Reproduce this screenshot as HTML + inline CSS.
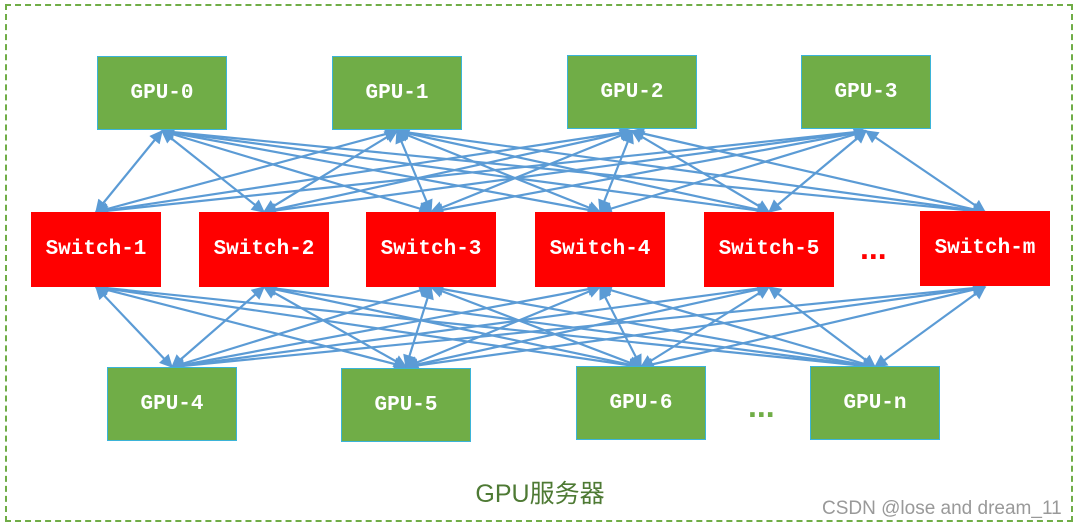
<!DOCTYPE html>
<html><head><meta charset="utf-8"><style>
html,body{margin:0;padding:0;background:#fff;width:1080px;height:528px;overflow:hidden}
.b{position:absolute;display:flex;align-items:center;justify-content:center;font-family:"Liberation Mono","DejaVu Sans Mono",monospace;font-weight:bold;color:#fff;font-size:21px}
.g{background:#70ad47;border:1px solid #3bb4d8;width:128px;height:72px}
.s{background:#ff0000;width:130px;height:75px}
</style></head><body>
<div style="position:absolute;left:5px;top:4px;width:1064px;height:514px;border:2px dashed #70ad47"></div>
<svg style="position:absolute;left:0;top:0" width="1080" height="528">
<defs><marker id="a" viewBox="0 0 10 10" refX="9" refY="5" markerWidth="7" markerHeight="6" orient="auto-start-reverse"><path d="M0,0L10,5L0,10z" fill="#5b9bd5"/></marker></defs>
<g id="L" stroke="#5b9bd5" stroke-width="2.2" marker-start="url(#a)" marker-end="url(#a)"></g>
</svg>
<div class="b g" style="left:97px;top:56px">GPU-0</div>
<div class="b g" style="left:332px;top:56px">GPU-1</div>
<div class="b g" style="left:567px;top:55px">GPU-2</div>
<div class="b g" style="left:801px;top:55px">GPU-3</div>
<div class="b s" style="left:31px;top:212px">Switch-1</div>
<div class="b s" style="left:199px;top:212px">Switch-2</div>
<div class="b s" style="left:366px;top:212px">Switch-3</div>
<div class="b s" style="left:535px;top:212px">Switch-4</div>
<div class="b s" style="left:704px;top:212px">Switch-5</div>
<div class="b s" style="left:920px;top:211px">Switch-m</div>
<div class="b g" style="left:107px;top:367px">GPU-4</div>
<div class="b g" style="left:341px;top:368px">GPU-5</div>
<div class="b g" style="left:576px;top:366px">GPU-6</div>
<div class="b g" style="left:810px;top:366px">GPU-n</div>
<div style="position:absolute;left:860px;top:230px;color:#ff0000;font:bold 32px 'Liberation Sans',sans-serif">...</div>
<div style="position:absolute;left:748px;top:388px;color:#70ad47;font:bold 32px 'Liberation Sans',sans-serif">...</div>
<div style="position:absolute;left:0;width:1080px;top:474px;text-align:center;color:#4e7a34;font:25px 'Liberation Sans','Noto Sans CJK SC',sans-serif">GPU服务器</div>
<div style="position:absolute;left:822px;top:498px;color:#999;font:19px 'Liberation Sans',sans-serif">CSDN @lose and dream_11</div>
<script>
(function(){
var g=document.getElementById('L'),ns='http://www.w3.org/2000/svg';
var tp=[162,397,632,866],sw=[96,264,431,600,769,985],bt=[172,406,641,875];
function ln(x1,y1,x2,y2){var l=document.createElementNS(ns,'line');l.setAttribute('x1',x1);l.setAttribute('y1',y1);l.setAttribute('x2',x2);l.setAttribute('y2',y2);g.appendChild(l);}
tp.forEach(function(t){sw.forEach(function(s){ln(t,131,s,212);});});
bt.forEach(function(b){sw.forEach(function(s){ln(b,367,s,287);});});
})();
</script>
</body></html>
